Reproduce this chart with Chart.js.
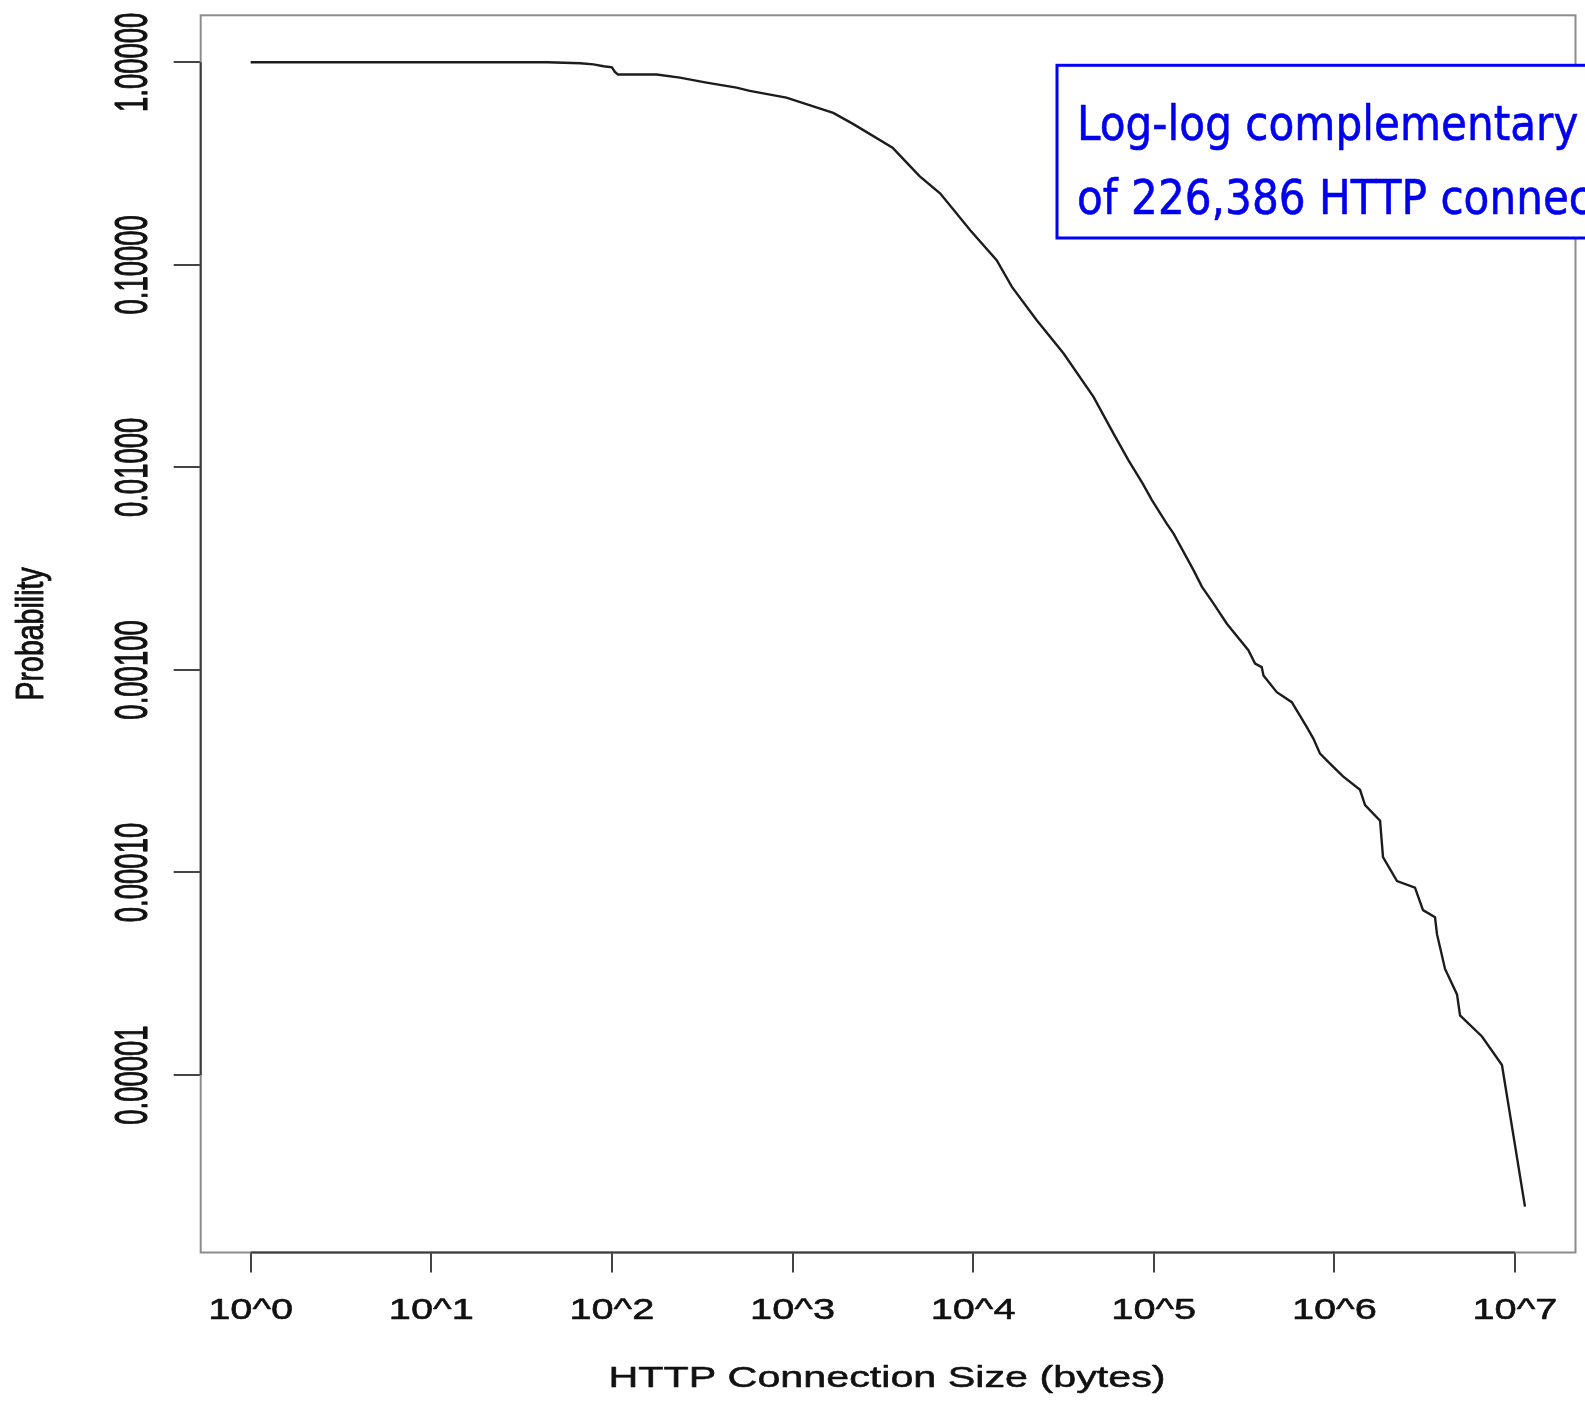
<!DOCTYPE html>
<html>
<head>
<meta charset="utf-8">
<title>HTTP connection size CCDF</title>
<script src="https://cdn.jsdelivr.net/npm/chart.js@4.4.1/dist/chart.umd.min.js"></script>
<style>
  html, body { margin: 0; padding: 0; background: #fff; }
  #wrap { width: 1585px; height: 1405px; position: relative; }
</style>
</head>
<body>
<div id="wrap"><canvas id="ccdfChart"></canvas></div>
<script>
// connection size (bytes) and P(X > x)
const sizes = [
  1, 44, 67, 79, 90, 100, 104, 108, 177, 238,
  334, 490, 580, 925, 1680, 2150, 3580, 4000, 5050, 6580,
  9640, 13500, 16400, 22500, 31700, 46400, 59900, 72500, 86900, 97700,
  118000, 129000, 166000, 185000, 214000, 254000, 334000, 364000, 396000, 405000,
  480000, 581000, 646000, 704000, 765000, 833000, 946000, 1117000, 1387000, 1479000,
  1791000, 1859000, 2223000, 2795000, 3096000, 3608000, 3700000, 4100000, 4776000, 4964000,
  6565000, 8470000, 11360000
];
const probs = [
  1, 1, 0.989, 0.977, 0.956, 0.945, 0.896, 0.870, 0.870, 0.840,
  0.794, 0.750, 0.722, 0.669, 0.562, 0.498, 0.379, 0.341, 0.274, 0.2248,
  0.1482, 0.1054, 0.0778, 0.0533, 0.0365, 0.02229, 0.01469, 0.01084, 0.00832, 0.00689,
  0.00528, 0.00470, 0.00311, 0.00257, 0.00213, 0.00169, 0.001252, 0.001074, 0.001033, 0.000939,
  0.000777, 0.000693, 0.000593, 0.000522, 0.000458, 0.000386, 0.000345, 0.000298, 0.000256, 0.000215,
  0.000180, 0.0001192, 0.0000907, 0.0000841, 0.0000652, 0.0000601, 0.0000496, 0.0000334, 0.0000250, 0.0000197,
  0.0000155, 0.0000112, 0.00000224
];

const xTickValues = [1, 10, 100, 1000, 1e4, 1e5, 1e6, 1e7];
const xTickLabels = ['10^0', '10^1', '10^2', '10^3', '10^4', '10^5', '10^6', '10^7'];
const yTickValues = [1, 0.1, 0.01, 0.001, 0.0001, 0.00001];
const yTickLabels = ['1.00000', '0.10000', '0.01000', '0.00100', '0.00010', '0.00001'];

const xTitle = 'HTTP Connection Size (bytes)';
const yTitle = 'Probability';
const noteLines = ['Log-log complementary', 'of 226,386 HTTP connec'];

var ctx = document.getElementById('ccdfChart').getContext('2d');

// text in the original is stretched (old R device output), so draw it scaled
function stretchedText(c, str, x, y, sx, sy, rot, align, weight) {
    c.save();
    c.translate(x, y);
    if (rot) c.rotate(rot);
    c.scale(sx, sy);
    c.textAlign = align;
    c.textBaseline = 'alphabetic';
    c.fillText(str, 0, 0);
    if (weight) {
        c.lineWidth = weight;
        c.lineJoin = 'round';
        c.strokeStyle = c.fillStyle;
        c.strokeText(str, 0, 0);
    }
    c.restore();
}

const rPlotLook = {
    id: 'rPlotLook',
    beforeDatasetsDraw(chart) {
        const c = chart.ctx;
        const a = chart.chartArea;
        const x = chart.scales.x, y = chart.scales.y;
        c.save();
        c.strokeStyle = '#8c8c8c';
        c.lineWidth = 2;
        c.strokeRect(a.left, a.top, a.right - a.left, a.bottom - a.top);
        // axis lines only run from first to last tick, like R's axis()
        c.strokeStyle = '#3a3a3a';
        c.beginPath();
        c.moveTo(x.getPixelForValue(xTickValues[0]), a.bottom);
        c.lineTo(x.getPixelForValue(xTickValues[xTickValues.length - 1]), a.bottom);
        c.moveTo(a.left, y.getPixelForValue(yTickValues[0]));
        c.lineTo(a.left, y.getPixelForValue(yTickValues[yTickValues.length - 1]));
        c.stroke();
        c.restore();
    },
    afterDraw(chart) {
        const c = chart.ctx;
        const a = chart.chartArea;
        const x = chart.scales.x, y = chart.scales.y;
        c.save();
        c.fillStyle = '#111';

        c.font = '29px "Liberation Sans", Arial, sans-serif';
        xTickValues.forEach((v, i) => {
            stretchedText(c, xTickLabels[i], x.getPixelForValue(v), 1318.5, 1.37, 1, 0, 'center', 0.55);
        });
        c.font = '30px "Liberation Sans", Arial, sans-serif';
        stretchedText(c, xTitle, 887, 1387, 1.375, 1, 0, 'center', 0.55);

        c.font = '27.5px "Liberation Sans", Arial, sans-serif';
        yTickValues.forEach((v, i) => {
            stretchedText(c, yTickLabels[i], 147, y.getPixelForValue(v), 1, 1.68, -Math.PI / 2, 'center', 0.7);
        });
        c.font = '28.5px "Liberation Sans", Arial, sans-serif';
        stretchedText(c, yTitle, 43, (a.top + a.bottom) / 2, 1, 1.36, -Math.PI / 2, 'center', 0.7);

        // blue note box pasted over the top right corner
        c.fillStyle = '#fff';
        c.fillRect(1057, 65.3, 600, 172.7);
        c.strokeStyle = '#0000ff';
        c.lineWidth = 3;
        c.strokeRect(1057, 65.3, 600, 172.7);
        c.fillStyle = '#0000ee';
        c.font = '48.5px "DejaVu Sans", Verdana, sans-serif';
        stretchedText(c, noteLines[0], 1077, 139.5, 0.87, 1, 0, 'left', 0.6);
        stretchedText(c, noteLines[1], 1077, 214, 0.87, 1, 0, 'left', 0.6);
        c.restore();
    }
};

function decadeTicks(values) {
    return function(scale) {
        scale.ticks = values.map(v => ({ value: v }));
    };
}

var chart = new Chart(ctx, {
    type: 'line',
    data: {
        datasets: [{
            data: sizes.map((s, i) => ({ x: s, y: probs[i] })),
            borderColor: '#1c1c1c',
            borderWidth: 2.4,
            pointRadius: 0,
            tension: 0,
            fill: false
        }]
    },
    plugins: [rPlotLook],
    options: {
        responsive: true,
        maintainAspectRatio: false,
        animation: false,
        layout: {
            padding: { left: 0, top: 15.3, right: 9.5, bottom: 0 }
        },
        plugins: {
            legend: { display: false },
            tooltip: { enabled: false }
        },
        scales: {
            x: {
                type: 'logarithmic',
                position: 'bottom',
                min: 0.529,
                max: 2.163e7,
                afterBuildTicks: decadeTicks(xTickValues),
                afterFit: function(scale) { scale.height = 152.5; },
                ticks: { display: false },
                border: { display: false },
                grid: {
                    drawOnChartArea: false,
                    drawTicks: true,
                    tickLength: 20,
                    color: '#444',
                    lineWidth: 2
                }
            },
            y: {
                type: 'logarithmic',
                position: 'left',
                min: 1.33e-6,
                max: 1.706,
                afterBuildTicks: decadeTicks(yTickValues),
                afterFit: function(scale) { scale.width = 200.7; },
                ticks: { display: false },
                border: { display: false },
                grid: {
                    drawOnChartArea: false,
                    drawTicks: true,
                    tickLength: 27,
                    color: '#444',
                    lineWidth: 2
                }
            }
        }
    }
});
</script>
</body>
</html>
